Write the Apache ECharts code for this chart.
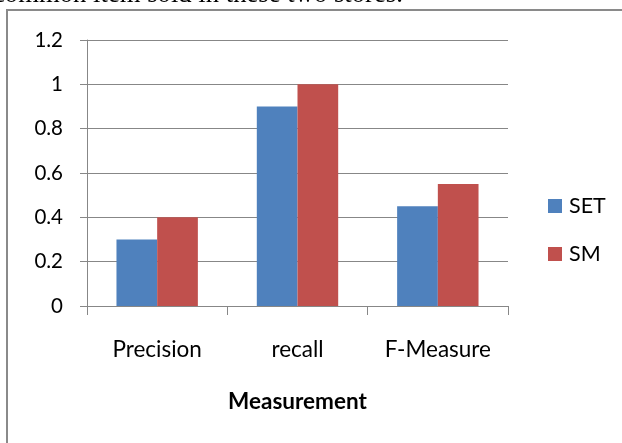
<!DOCTYPE html>
<html>
<head>
<meta charset="utf-8">
<script src="https://cdn.jsdelivr.net/npm/echarts@6/dist/echarts.min.js"></script>
<style>
  html, body { margin: 0; padding: 0; background: #fff; }
  #chart { width: 622px; height: 443px; }
</style>
</head>
<body>
<div id="chart"></div>
<script>
// Measurement categories and the scores of both methods
const categories = ['Precision', 'recall', 'F-Measure'];
const setValues = [0.3, 0.9, 0.45];
const smValues = [0.4, 1.0, 0.55];
const seriesNames = ['SET', 'SM'];
const axisTitle = 'Measurement';
const captionLine = 'common item sold in these two stores.';

const labelFont = 'Lato, Calibri, "Liberation Sans", sans-serif';
const gridGray = '#878787';

const chart = echarts.init(document.getElementById('chart'), null, { renderer: 'canvas' });

chart.setOption({
  animation: false,
  backgroundColor: '#ffffff',
  color: ['#4F81BD', '#C0504D'],
  graphic: [
    {
      type: 'text',
      left: -7,
      top: -19,
      style: {
        text: captionLine,
        font: '26.7px "Liberation Serif", "Times New Roman", serif',
        fill: '#000'
      }
    },
    {
      type: 'rect',
      shape: { x: 7, y: 10, width: 700, height: 500 },
      style: { fill: 'none', stroke: '#8a8a8a', lineWidth: 2 },
      z: -1
    }
  ],
  legend: {
    orient: 'vertical',
    left: 543,
    top: 190,
    itemWidth: 14,
    itemHeight: 14,
    itemGap: 26,
    icon: 'rect',
    textStyle: { fontFamily: labelFont, fontSize: 21.5, color: '#000', padding: [0, 0, 0, 2] },
    data: seriesNames
  },
  grid: { left: 87, right: 114, top: 40, bottom: 137, containLabel: false },
  xAxis: {
    type: 'category',
    data: categories,
    name: axisTitle,
    nameLocation: 'middle',
    nameGap: 84,
    nameTextStyle: { fontFamily: labelFont, fontSize: 22.5, fontWeight: 'bold', color: '#000' },
    axisLine: { lineStyle: { color: gridGray, width: 1 } },
    axisTick: { show: true, length: 9, alignWithLabel: false, lineStyle: { color: gridGray } },
    axisLabel: { margin: 32, fontFamily: labelFont, fontSize: 22.5, color: '#000' }
  },
  yAxis: {
    type: 'value',
    min: 0,
    max: 1.2,
    interval: 0.2,
    axisLine: { show: true, lineStyle: { color: gridGray, width: 1 } },
    axisTick: { show: true, length: 7, lineStyle: { color: gridGray } },
    splitLine: { lineStyle: { color: gridGray, width: 1 } },
    axisLabel: { margin: 24, fontFamily: labelFont, fontSize: 20.5, color: '#000' }
  },
  series: [
    {
      name: seriesNames[0],
      type: 'bar',
      data: setValues,
      barGap: '0%',
      barCategoryGap: '42%'
    },
    {
      name: seriesNames[1],
      type: 'bar',
      data: smValues,
      barGap: '0%',
      barCategoryGap: '42%'
    }
  ]
});
</script>
</body>
</html>
